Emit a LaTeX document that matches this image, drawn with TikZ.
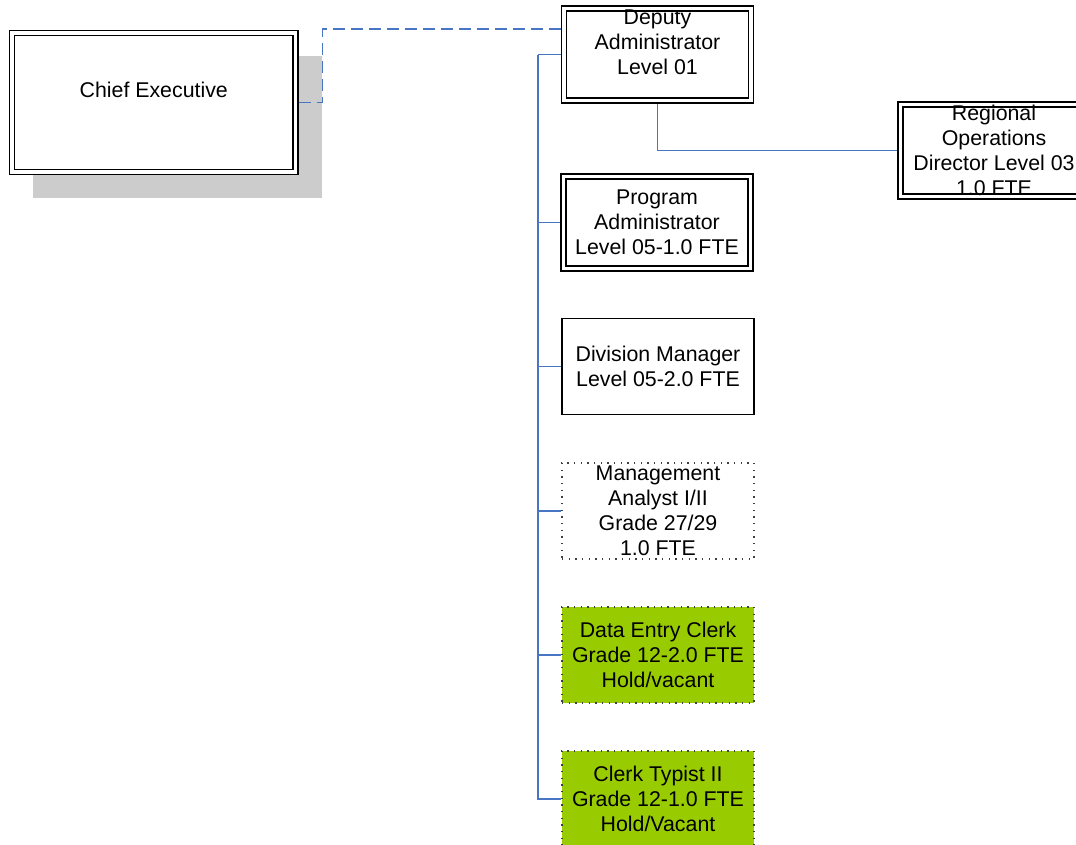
\documentclass[tikz,border=0pt]{standalone}
\usepackage{fontspec}
\setmainfont{Liberation Sans}
\usepackage{tikz}
\usetikzlibrary{positioning, shadows, calc}
\definecolor{linkblue}{RGB}{72, 118, 196}
\definecolor{holdgreen}{RGB}{153, 204, 0}

\begin{document}
\begin{tikzpicture}[x=0.75pt, y=-0.75pt,
  post/.style={rectangle, align=center, inner sep=0pt,
               font=\fontsize{16pt}{18.7pt}\selectfont},
  dblpost/.style={post, draw, fill=white, line width=1.15pt, double=white,
                  double distance=2.3pt, outer sep=2.3pt,
                  minimum width=140.25pt, minimum height=69pt},
  plainpost/.style={post, draw, line width=1.4pt,
                    minimum width=144pt, minimum height=72pt},
  dotpost/.style={post, draw=black!75, line width=1pt, dash pattern=on 1pt off 4pt,
                  minimum width=144pt, minimum height=72pt},
  link/.style={linkblue, line width=1.4pt},
  dashlink/.style={link, dash pattern=on 9pt off 4.5pt}
]
\useasboundingbox (0,0) rectangle (1076,844);

\node[dblpost, minimum width=212.6pt, minimum height=104.25pt,
      drop shadow={shadow xshift=17.5pt, shadow yshift=-18pt, shadow scale=1.02,
                   fill=black!20, opacity=1}] (chief) at (153.75,102.5) {Chief Executive\\\mbox{}};

\node[dblpost] (dep) at (657.5,54.5) {Deputy\\Administrator\\Level 01\\\mbox{}};
\node[dblpost] (reg) at (994,150.5) {Regional\\Operations\\Director Level 03\\1.0 FTE};
\node[dblpost] (prog) at (657,222.5) {Program\\Administrator\\Level 05-1.0 FTE};
\node[plainpost] (div) at (658,366.5) {Division Manager\\Level 05-2.0 FTE};
\node[dotpost] (mgmt) at (658,511) {Management\\Analyst I/II\\Grade 27/29\\1.0 FTE};
\node[dotpost, fill=holdgreen] (clerk) at (658,655) {Data Entry Clerk\\Grade 12-2.0 FTE\\Hold/vacant};
\node[dotpost, fill=holdgreen] (typist) at (658,799) {Clerk Typist II\\Grade 12-1.0 FTE\\Hold/Vacant};

\coordinate[left=17.25pt of dep.west] (trunk);
\draw[link] (trunk) |- (typist.west);
\foreach \n in {dep, prog, div, mgmt, clerk}
  \draw[link] (trunk |- \n.west) -- (\n.west);
\draw[link] (dep.south) |- (reg.west);
\draw[dashlink] (chief.east) -- ++(24,0) |- ([yshift=-17.6pt]dep.north west);
\end{tikzpicture}
\end{document}
